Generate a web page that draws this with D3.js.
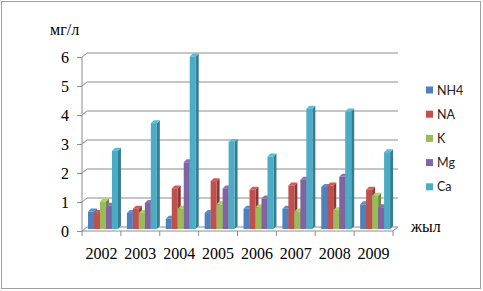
<!DOCTYPE html>
<html><head><meta charset="utf-8">
<script src="https://cdn.jsdelivr.net/npm/d3@7"></script>
<style>body{margin:0;background:#fff}svg{display:block}</style>
</head><body>
<svg id="c" width="483" height="291"></svg>
<script>
const years = ["2002","2003","2004","2005","2006","2007","2008","2009"];
const series = ["NH4","NA","K","Mg","Ca"];
const colors = ["#4F81BD","#C0504D","#9BBB59","#8064A2","#4BACC6"];
const NH4 = [0.6,0.55,0.35,0.55,0.7,0.7,1.45,0.85];
const NA  = [0.55,0.7,1.4,1.65,1.35,1.5,1.5,1.35];
const K   = [0.95,0.55,0.7,0.85,0.75,0.6,0.65,1.15];
const Mg  = [0.8,0.9,2.3,1.4,1.05,1.7,1.8,0.75];
const Ca  = [2.7,3.65,5.95,3.0,2.5,4.15,4.05,2.65];
const values = [NH4,NA,K,Mg,Ca];
const yTicks = [0,1,2,3,4,5,6];

const svg = d3.select("#c");
svg.append("rect").attr("x",1.5).attr("y",1.5).attr("width",479).attr("height",287)
  .attr("fill","#fff").attr("stroke","#a0a0a0").attr("stroke-width",1);

const y = d3.scaleLinear().domain([0,6]).range([231,57]);
const x = d3.scaleBand().domain(years).range([82,393]);
const x1 = d3.scaleBand().domain(series).range([x.bandwidth()*0.155, x.bandwidth()*0.925]);
const wdx = 5, wdy = -4; // back wall offset
const bdx = 3, bdy = -3; // bar depth
const gray = "#8c8c8c";

// back wall gridlines
const g = svg.append("g");
yTicks.forEach(t=>{
  g.append("line").attr("x1",82).attr("y1",y(t)).attr("x2",82+wdx).attr("y2",y(t)+wdy).attr("stroke",gray);
  g.append("line").attr("x1",82+wdx).attr("y1",y(t)+wdy).attr("x2",393+wdx).attr("y2",y(t)+wdy).attr("stroke",gray);
});
// floor
g.append("line").attr("x1",393).attr("y1",y(0)).attr("x2",393+wdx).attr("y2",y(0)+wdy).attr("stroke",gray);

// y axis
const ya = svg.append("g").attr("transform","translate(82,0)")
  .call(d3.axisLeft(y).tickValues(yTicks).tickFormat(d3.format("d")).tickSize(5).tickPadding(8));
ya.selectAll("path,line").attr("stroke",gray);
ya.selectAll("text").attr("font-family","Liberation Serif, Times New Roman, serif").attr("font-size",16).attr("fill","#000").attr("dy","0.35em");
ya.select("path").attr("d","M-0,"+y(6)+"V"+y(0));

// x axis
const xa = svg.append("g").attr("transform","translate(0,"+y(0)+")")
  .call(d3.axisBottom(x).tickSize(0).tickPadding(17));
xa.select("path").attr("stroke",gray).attr("d","M82,0H393");
xa.selectAll("text").attr("font-family","Liberation Serif, Times New Roman, serif").attr("font-size",16).attr("fill","#000");
const bounds = years.map(d=>x(d)).concat([393]);
xa.selectAll(".bt").data(bounds).join("line").attr("class","bt")
  .attr("x1",d=>d).attr("x2",d=>d).attr("y1",0).attr("y2",5).attr("stroke",gray);

// bars
const bars = svg.append("g");
const yb = v => y(v) - 2;
years.forEach((yr,i)=>{
  series.forEach((s,j)=>{
    const v = values[j][i];
    const x0 = x(yr)+x1(s), w = x1.bandwidth();
    const top = yb(v), bot = yb(0);
    const c = d3.color(colors[j]);
    // side
    bars.append("path").attr("d",`M${x0+w},${top}L${x0+w+bdx},${top+bdy}L${x0+w+bdx},${bot+bdy}L${x0+w},${bot}Z`)
      .attr("fill",c.darker(0.9));
    // top
    bars.append("path").attr("d",`M${x0},${top}L${x0+bdx},${top+bdy}L${x0+w+bdx},${top+bdy}L${x0+w},${top}Z`)
      .attr("fill",c.brighter(0.3));
    // front
    bars.append("rect").attr("x",x0).attr("y",top).attr("width",w).attr("height",bot-top).attr("fill",c);
  });
});

// labels
svg.append("text").attr("x",50).attr("y",35).attr("font-family","Liberation Serif, Times New Roman, serif")
  .attr("font-size",16).text("мг/л");
svg.append("text").attr("x",411).attr("y",232).attr("font-family","Liberation Serif, Times New Roman, serif")
  .attr("font-size",16).text("жыл");

// legend
const lg = svg.append("g");
series.forEach((s,j)=>{
  const cy = 90 + j*24.2;
  lg.append("rect").attr("x",426).attr("y",cy-3.5).attr("width",7).attr("height",7).attr("fill",colors[j]);
  lg.append("text").attr("x",437).attr("y",cy).attr("dy","0.36em").attr("font-family","Lato, Liberation Sans, sans-serif")
    .attr("font-size",12.5).attr("fill","#222").text(s);
});
</script>
</body></html>
